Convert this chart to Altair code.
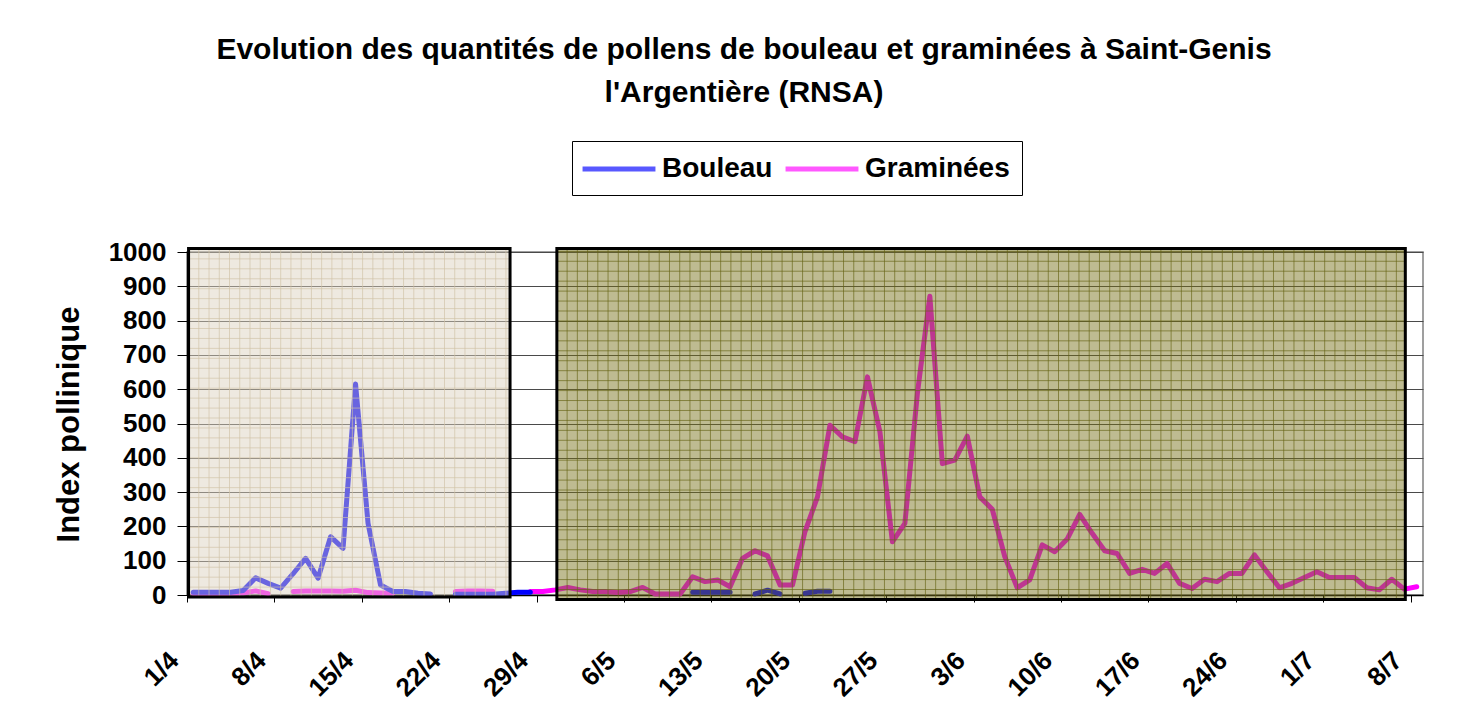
import altair as alt
import pandas as pd

# ---------------- data ----------------
START_DATE = "2007-04-01"
N_DAYS = 99  # 1/4 .. 8/7

BOULEAU = [8, 8, 8, 8, 13, 50, 34, 20, 62, 107,
           49, 170, 136, 615, 209, 29, 10, 10, 5, 3,
           None, 2, 2, 2, 2, 5, 8, 8, None, None,
           None, None, None, None, None, None, None, None, None, None,
           8, 8, 8, 8, None, 3, 14, 3, None, 5,
           11, 11] + [None] * 47

GRAMINEES = [5, 5, 5, 5, 6, 12, 4, None, 10, 12,
             12, 12, 11, 14, 7, 6, 5, None, None, None,
             None, 10, 12, 12, 11, None, None, 10, 10, 15,
             22, 15, 10, 10, 7, 10, 22, 3, 3, 3,
             53, 39, 44, 24, 107, 129, 114, 29, 29, 185,
             286, 495, 461, 447, 636, 476, 155, 209, 587, 871,
             383, 393, 463, 286, 250, 112, 21, 44, 146, 126,
             163, 235, 180, 129, 121, 63, 75, 63, 92, 34,
             19, 46, 39, 63, 63, 117, 68, 21, 34, 51,
             68, 51, 51, 51, 21, 15, 46, 17, 24]

SERIES = ["Bouleau", "Graminées"]
SERIES_COLORS = ["#0000FF", "#FF00FF"]

TICK_DAYS = list(range(0, 99, 7))          # 1/4, 8/4, ... 8/7
Y_TICKS = list(range(0, 1001, 100))

# highlighted periods (background panels)
PANEL_START = ["2007-04-01T03:00", "2007-04-30T15:00"]
PANEL_END = ["2007-04-26T21:00", "2007-07-07T14:00"]
PANEL_LOW = [-6, -13]
PANEL_HIGH = [1010, 1010]
PANEL_FILL = ["#DCD2BE", "#77701A"]
PANEL_PATTERN = ["#CFC2A6", "#666214"]

TITLE = ["Evolution des quantités de pollens de bouleau et graminées à Saint-Genis",
         "l'Argentière (RNSA)"]
Y_TITLE = "Index pollinique"

FONT = "Liberation Sans"

# ---------------- tables ----------------
dates = pd.date_range(START_DATE, periods=N_DAYS, freq="D") + pd.Timedelta(hours=12)
df_b = pd.DataFrame({"date": dates, "value": pd.array(BOULEAU, dtype="Float64").astype(float), "serie": SERIES[0]})
df_g = pd.DataFrame({"date": dates, "value": pd.array(GRAMINEES, dtype="Float64").astype(float), "serie": SERIES[1]})

base = pd.Timestamp(START_DATE)
tick_values = []
for d in TICK_DAYS:
    t = base + pd.Timedelta(days=d)
    tick_values.append(alt.DateTime(year=t.year, month=t.month, date=t.day))
dom_end = base + pd.Timedelta(days=N_DAYS)

panels = pd.DataFrame({
    "start": pd.to_datetime(PANEL_START), "end": pd.to_datetime(PANEL_END),
    "lo": PANEL_LOW, "hi": PANEL_HIGH, "fill": PANEL_FILL, "pat": PANEL_PATTERN,
})

# decorative grid texture inside the panels
PAT_DAYS = 0.82
PAT_VAL = 29.0
rows = []
for _, p in panels.iterrows():
    t = p["start"] + pd.Timedelta(days=PAT_DAYS)
    while t < p["end"]:
        rows.append({"x": t, "x2": t, "y": p["lo"], "y2": p["hi"], "pat": p["pat"]})
        t += pd.Timedelta(days=PAT_DAYS)
    v = p["lo"] + PAT_VAL
    while v < p["hi"]:
        rows.append({"x": p["start"], "x2": p["end"], "y": v, "y2": v, "pat": p["pat"]})
        v += PAT_VAL
pattern = pd.DataFrame(rows)

# ---------------- scales / axes ----------------
xscale = alt.Scale(domain=[alt.DateTime(year=base.year, month=base.month, date=base.day),
                           alt.DateTime(year=dom_end.year, month=dom_end.month, date=dom_end.day)])
yscale = alt.Scale(domain=[0, 1000], nice=False)

xaxis = alt.Axis(values=tick_values, format="%-d/%-m", labelAngle=315, labelAlign="right",
                 labelBaseline="middle", labelFont=FONT, labelFontSize=26, labelFontWeight="bold",
                 labelColor="black", labelPadding=54, labelOffset=-13, labelFlush=False,
                 labelOverlap=False, tickSize=7, tickColor="black", tickWidth=1,
                 domainColor="black", domainWidth=1.5, grid=False, title=None)
yaxis = alt.Axis(values=Y_TICKS, format="d", labelFont=FONT, labelFontSize=26, labelFontWeight="bold",
                 labelColor="black", labelPadding=11, tickSize=10, tickColor="black",
                 domainColor="black", grid=True, gridColor="#4a4a4a", gridWidth=1.2,
                 title=Y_TITLE, titleFont=FONT, titleFontSize=31, titleFontWeight="bold",
                 titleColor="black", titleAngle=270, titleX=-118, titleY=172,
                 titleAlign="center", titleBaseline="middle")

legend = alt.Legend(title=None, orient="none", legendX=385, legendY=-111, direction="horizontal",
                    symbolType="M-2.7,0H2.7", symbolStrokeWidth=5, symbolSize=729,
                    symbolOffset=19, symbolFillColor="transparent", symbolOpacity=1,
                    labelFont=FONT, labelFontSize=28, labelFontWeight="bold", labelColor="black",
                    labelOffset=27, columnPadding=2, padding=12, strokeColor="black",
                    fillColor="white", labelLimit=0)

color = alt.Color("serie:N", scale=alt.Scale(domain=SERIES, range=SERIES_COLORS), legend=legend)

def line_layer(df):
    return alt.Chart(df).mark_line(strokeWidth=5, strokeCap="round", strokeJoin="round",
                                   invalid="break-paths-show-domains").encode(
        x=alt.X("date:T", scale=xscale, axis=xaxis),
        y=alt.Y("value:Q", scale=yscale, axis=yaxis),
        color=color,
    )

gram = line_layer(df_g)
boul = line_layer(df_b)

panel_fill = alt.Chart(panels).mark_rect(opacity=0.48).encode(
    x=alt.X("start:T", scale=xscale, axis=xaxis), x2="end:T",
    y=alt.Y("lo:Q", scale=yscale, axis=yaxis), y2="hi:Q",
    fill=alt.Fill("fill:N", scale=None),
)

pat = alt.Chart(pattern).mark_rule(strokeWidth=1, opacity=0.65).encode(
    x=alt.X("x:T", scale=xscale, axis=xaxis), x2="x2:T",
    y=alt.Y("y:Q", scale=yscale, axis=yaxis), y2="y2:Q",
    color=alt.Color("pat:N", scale=None),
)

panel_border = alt.Chart(panels).mark_rect(fillOpacity=0, stroke="black", strokeWidth=3).encode(
    x=alt.X("start:T", scale=xscale, axis=xaxis), x2="end:T",
    y=alt.Y("lo:Q", scale=yscale, axis=yaxis), y2="hi:Q",
)

chart = alt.layer(gram, boul, panel_fill, pat, panel_border).properties(
    width=1236, height=343,
    padding={"left": 179, "top": 244, "right": 22, "bottom": 120},
    autosize=alt.AutoSizeParams(type="none"),
    background="white",
    title=alt.TitleParams(text=TITLE, font=FONT, fontSize=30, fontWeight="bold", color="black",
                          anchor="middle", dx=-61, lineHeight=43, offset=33),
).configure_view(stroke="#808080", strokeWidth=1.5)

chart.save("out.html", embed_options={"renderer": "svg", "actions": False})
